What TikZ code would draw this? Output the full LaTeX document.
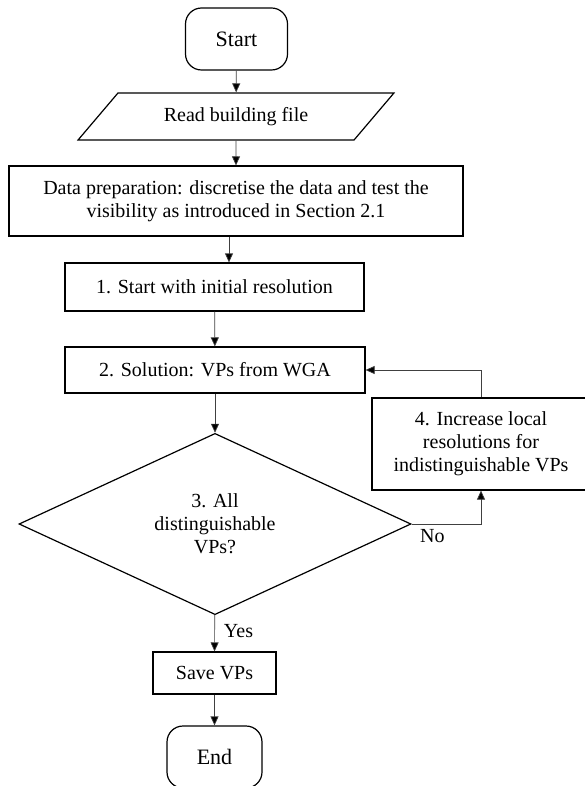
\documentclass[tikz,border=0pt]{standalone}
\usepackage{fontspec}
\setmainfont{Liberation Serif}
\usepackage{tikz}
\usetikzlibrary{positioning,shapes.geometric,arrows.meta}

\begin{document}
\begin{tikzpicture}[x=1pt, y=-1pt,
    every node/.style={font=\fontsize{20}{23}\selectfont, inner sep=0pt},
    box/.style={draw, line width=1.2pt, align=center},
    term/.style={draw, line width=1.2pt, rounded corners=16pt,
      minimum width=102, minimum height=62, font=\fontsize{22}{26}\selectfont},
    io/.style={draw, line width=1.2pt, trapezium, trapezium stretches=true,
      trapezium left angle=37, trapezium right angle=143},
    decision/.style={draw, line width=1.2pt, diamond, align=center},
    arr/.style={draw=black!75, line width=0.7pt, -{Triangle[length=9pt,width=8pt,fill=black]}}]
  \useasboundingbox (0,0) rectangle (585,786);

  % Nodes
  \node[term] (start) at (236.5,39) {Start};
  \node[io, minimum width=316, minimum height=47] (read) at (236,116.5) {Read building file};
  \node[box, minimum width=454, minimum height=70] (prep) at (236,201)
    {Data preparation: discretise the data and test the\\visibility as introduced in Section 2.1};
  \node[box, minimum width=299, minimum height=48] (res) at (214.5,287) {1. Start with initial resolution};
  \node[box, minimum width=300, minimum height=46] (sol) at (215,370) {2. Solution: VPs from WGA};
  \node[decision, minimum width=392, minimum height=174] (check) at (215,524)
    {3. All\\distinguishable\\VPs?};
  \node[box, minimum width=218, minimum height=92] (inc) at (481,444)
    {4. Increase local\\resolutions for\\indistinguishable VPs};
  \node[box, minimum width=123, minimum height=42] (save) at (214.5,673) {Save VPs};
  \node[term, minimum width=95] (end) at (214.5,757) {End};

  % Connectors
  \draw[arr] (start) -- (read);
  \draw[arr] (read) -- (prep);
  \draw[arr] ([xshift=-7]prep.south) -- ([xshift=-7]prep.south |- res.north);
  \draw[arr] (res) -- (sol);
  \draw[arr] (sol) -- (check);
  \draw[arr] (check) -- node[right=9pt, pos=0.45] {Yes} (save);
  \draw[arr] (save) -- (end);
  \draw[arr] (check.east) -- node[below, pos=0.3, yshift=-5pt] {No} (check.east -| inc.south) -- (inc.south);
  \draw[arr] (inc.north) |- (sol.east);
\end{tikzpicture}
\end{document}
